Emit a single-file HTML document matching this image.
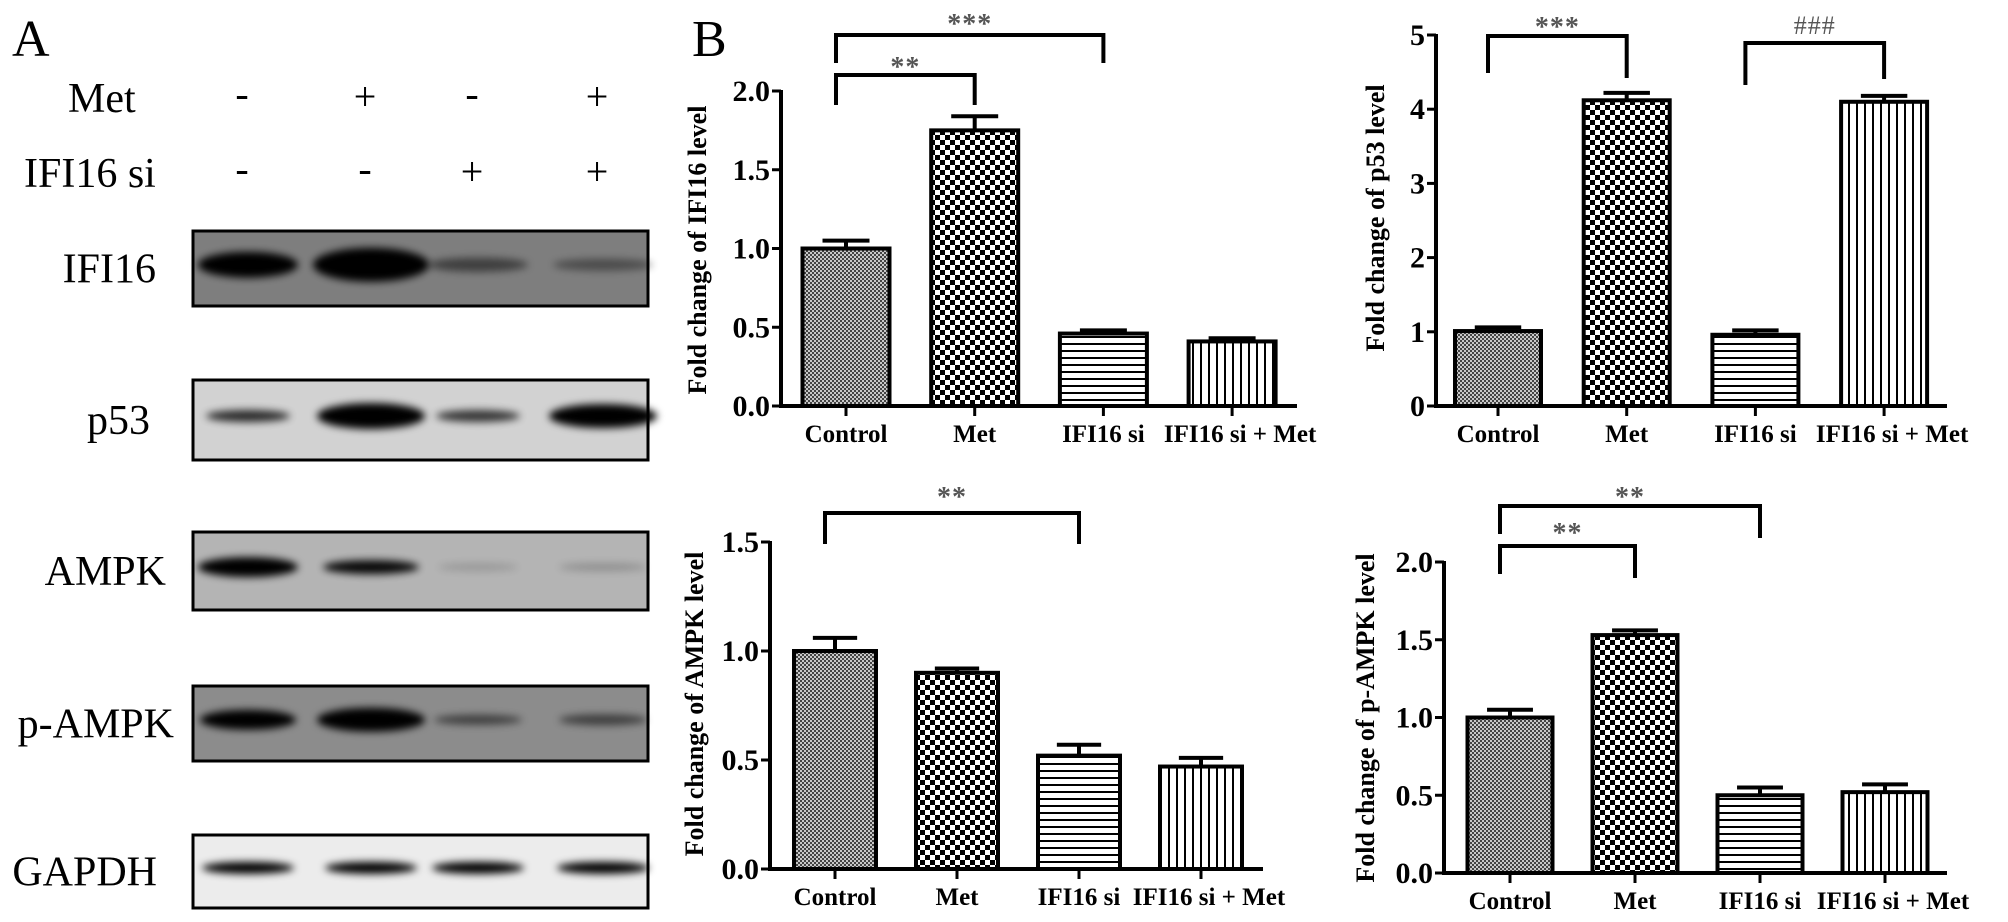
<!DOCTYPE html>
<html><head><meta charset="utf-8"><style>
html,body{margin:0;padding:0;background:#fff;}
svg{display:block;}
text{font-family:"Liberation Serif",serif;}
</style></head><body>
<svg id="fig" width="2008" height="922" viewBox="0 0 2008 922" xmlns="http://www.w3.org/2000/svg">
<defs>
<pattern id="patControl" patternUnits="userSpaceOnUse" width="4" height="4"><rect width="4" height="4" fill="#c8c8c8"/><rect width="2" height="2" fill="#444"/><rect x="2" y="2" width="2" height="2" fill="#444"/></pattern>
<pattern id="patMet" patternUnits="userSpaceOnUse" width="10" height="10"><rect width="10" height="10" fill="#fff"/><rect width="5" height="5" fill="#000"/><rect x="5" y="5" width="5" height="5" fill="#000"/></pattern>
<pattern id="patSi" patternUnits="userSpaceOnUse" width="8" height="7"><rect width="8" height="7" fill="#fff"/><rect y="0" width="8" height="2" fill="#000"/></pattern>
<pattern id="patSiMet" patternUnits="userSpaceOnUse" width="8" height="8"><rect width="8" height="8" fill="#fff"/><rect x="0" width="2" height="8" fill="#000"/></pattern>
<filter id="blur" x="-30%" y="-100%" width="160%" height="300%"><feGaussianBlur stdDeviation="4"/></filter>
</defs>
<g id="panelA"></g>
<g id="charts"></g>
</svg>
<script>
const categories = ["Control", "Met", "IFI16 si", "IFI16 si + Met"];
const ifi16Values = [1.0, 1.75, 0.46, 0.41];
const ifi16Errors = [0.05, 0.09, 0.02, 0.02];
const ifi16Ticks = ["0.0", "0.5", "1.0", "1.5", "2.0"];
const p53Values = [1.01, 4.12, 0.96, 4.1];
const p53Errors = [0.05, 0.1, 0.06, 0.08];
const p53Ticks = ["0", "1", "2", "3", "4", "5"];
const ampkValues = [1.0, 0.9, 0.52, 0.47];
const ampkErrors = [0.06, 0.02, 0.05, 0.04];
const ampkTicks = ["0.0", "0.5", "1.0", "1.5"];
const pampkValues = [1.0, 1.53, 0.5, 0.52];
const pampkErrors = [0.05, 0.03, 0.05, 0.05];
const pampkTicks = ["0.0", "0.5", "1.0", "1.5", "2.0"];
const patterns = ["patControl", "patMet", "patSi", "patSiMet"];

const NS = "http://www.w3.org/2000/svg";
function mk(tag, attrs, parent) {
  const e = document.createElementNS(NS, tag);
  for (const k in attrs) e.setAttribute(k, attrs[k]);
  if (parent) parent.appendChild(e);
  return e;
}
function txt(str, attrs, parent) { const t = mk("text", attrs, parent); t.textContent = str; return t; }

/* ---------- Panel A ---------- */
const A = document.getElementById("panelA");
const la = txt("A", {x: 12, y: 56, "font-size": 52}, A);


const lanesX = [242, 365, 472, 597];
const metSigns = ["-", "+", "-", "+"];
const siSigns = ["-", "-", "+", "+"];
const mt = txt("Met", {x: 68, y: 112, "font-size": 42}, A);


const st = txt("IFI16 si", {x: 24, y: 187, "font-size": 42}, A);


lanesX.forEach((x, i) => {
  const a = txt(metSigns[i], {x: x, y: metSigns[i] === "+" ? 110 : 107, "font-size": 40, "text-anchor": "middle"}, A);
  
  
  const b = txt(siSigns[i], {x: x, y: siSigns[i] === "+" ? 185 : 182, "font-size": 40, "text-anchor": "middle"}, A);
  
  
});
const blots = [
  {name: "IFI16", y: 231, h: 75, bg: "#7e7e7e", lx: 156, bands: [[0,1,50,26],[1,1,58,34],[2,0.5,50,14],[3,0.4,50,12]]},
  {name: "p53", y: 380, h: 80, bg: "#d2d2d2", lx: 150, bands: [[0,0.8,42,12],[1,1,54,26],[2,0.75,42,12],[3,1,54,24]]},
  {name: "AMPK", y: 532, h: 78, bg: "#b4b4b4", lx: 166, bands: [[0,1,50,20],[1,0.95,48,14],[2,0.15,40,8],[3,0.2,44,8]]},
  {name: "p-AMPK", y: 686, h: 75, bg: "#8c8c8c", lx: 174, bands: [[0,1,48,20],[1,1,54,24],[2,0.55,44,10],[3,0.55,44,11]]},
  {name: "GAPDH", y: 835, h: 73, bg: "#ececec", lx: 157, bands: [[0,1,46,12],[1,1,46,12],[2,1,46,12],[3,1,46,12]]}
];
blots.forEach(b => {
  const g = mk("g", {}, A);
  
  
  const lab = txt(b.name, {x: b.lx, y: b.y + b.h / 2 + 14, "font-size": 42, "text-anchor": "end"}, g);
  
  
  mk("rect", {x: 193, y: b.y, width: 455, height: b.h, fill: b.bg, stroke: "#000", "stroke-width": 3}, g);
  b.bands.forEach(bd => {
    const e = mk("ellipse", {cx: lanesX[bd[0]] + 6, cy: b.y + b.h * 0.45, rx: bd[2], ry: bd[3] / 2, fill: "#000", opacity: bd[1], filter: "url(#blur)"}, g);
    
    
  });
});
const lb = txt("B", {x: 692, y: 56, "font-size": 52}, A);



/* ---------- Charts ---------- */
const C = document.getElementById("charts");
function drawChart(cfg) {
  const g = mk("g", {}, C);
  
  
  const yScale = v => cfg.y0 - v / cfg.yMax * (cfg.y0 - cfg.yTop);
  const xScale = i => cfg.c0 + i * cfg.step;
  cfg.values.forEach((v, i) => {
    const x = xScale(i), top = yScale(v);
    const r = mk("rect", {x: x - cfg.bw / 2, y: top, width: cfg.bw, height: cfg.y0 - top, fill: "url(#" + patterns[i] + ")", stroke: "#000", "stroke-width": 4}, g);
    
    
    const et = yScale(v + cfg.errors[i]);
    const eb = mk("path", {d: "M" + x + " " + top + "V" + et + "M" + (x - cfg.bw * 0.27) + " " + et + "H" + (x + cfg.bw * 0.27), stroke: "#000", "stroke-width": 4, fill: "none"}, g);
    
    
  });
  const ax = mk("path", {d: "M" + cfg.ax + " " + (cfg.yTop - 1) + "V" + cfg.y0 + "H" + cfg.xEnd, stroke: "#000", "stroke-width": 4, fill: "none"}, g);
  
  
  cfg.ticks.forEach((t) => {
    const v = parseFloat(t), y = yScale(v);
    mk("line", {x1: cfg.ax - 9, x2: cfg.ax, y1: y, y2: y, stroke: "#000", "stroke-width": 3}, g);
    const tl = txt(t, {x: cfg.ax - 11, y: y + 10, "font-size": 30, "font-weight": "bold", "text-anchor": "end"}, g);
    
    
  });
  categories.forEach((c, i) => {
    const x = xScale(i);
    mk("line", {x1: x, x2: x, y1: cfg.y0, y2: cfg.y0 + 10, stroke: "#000", "stroke-width": 3}, g);
    const xl = txt(c, {x: x + (i === 3 ? 8 : 0), y: cfg.y0 + 36, "font-size": 25, "font-weight": "bold", "text-anchor": "middle"}, g);
    
    
  });
  const yt = txt(cfg.title, {x: 0, y: 0, "font-size": 26, "font-weight": "bold", "text-anchor": "middle", transform: "translate(" + cfg.tx + "," + cfg.ty + ") rotate(-90)"}, g);
  
  
  cfg.brackets.forEach(b => {
    const x1 = xScale(b[0]) - 10, x2 = xScale(b[1]);
    const p = mk("path", {d: "M" + x1 + " " + b[4] + "V" + b[3] + "H" + x2 + "V" + b[5], stroke: "#000", "stroke-width": 4, fill: "none"}, g);
    
    
    const isHash = b[2].indexOf("#") >= 0;
    const s = txt(b[2], {x: (x1 + x2) / 2, y: b[6] + (isHash ? 9 : 13), "font-size": isHash ? 26 : 28, "font-weight": isHash ? "normal" : "bold", fill: "#555", "text-anchor": "middle", "letter-spacing": 1}, g);
    
    
  });
}
drawChart({name: "ifi16-chart", values: ifi16Values, errors: ifi16Errors, ticks: ifi16Ticks, yMax: 2, ax: 781, y0: 406, yTop: 91, xEnd: 1297, c0: 846, step: 128.7, bw: 87, title: "Fold change of IFI16 level", tx: 706, ty: 250,
  brackets: [[0, 2, "***", 35, 63, 63, 20], [0, 1, "**", 75, 105, 105, 63]]});
drawChart({name: "p53-chart", values: p53Values, errors: p53Errors, ticks: p53Ticks, yMax: 5, ax: 1436, y0: 406, yTop: 35, xEnd: 1947, c0: 1498, step: 128.7, bw: 86, title: "Fold change of  p53 level", tx: 1384, ty: 218,
  brackets: [[0, 1, "***", 36, 73, 78, 23], [2, 3, "###", 43, 85, 79, 25]]});
drawChart({name: "ampk-chart", values: ampkValues, errors: ampkErrors, ticks: ampkTicks, yMax: 1.5, ax: 770, y0: 869, yTop: 542, xEnd: 1263, c0: 835, step: 122, bw: 82, title: "Fold change of AMPK level", tx: 703, ty: 704,
  brackets: [[0, 2, "**", 513, 544, 544, 493]]});
drawChart({name: "p-ampk-chart", values: pampkValues, errors: pampkErrors, ticks: pampkTicks, yMax: 2, ax: 1444, y0: 873, yTop: 562, xEnd: 1947, c0: 1510, step: 125, bw: 85, title: "Fold change of p-AMPK level", tx: 1374, ty: 718,
  brackets: [[0, 2, "**", 506, 534, 538, 493], [0, 1, "**", 546, 574, 578, 529]]});
</script>
</body></html>
